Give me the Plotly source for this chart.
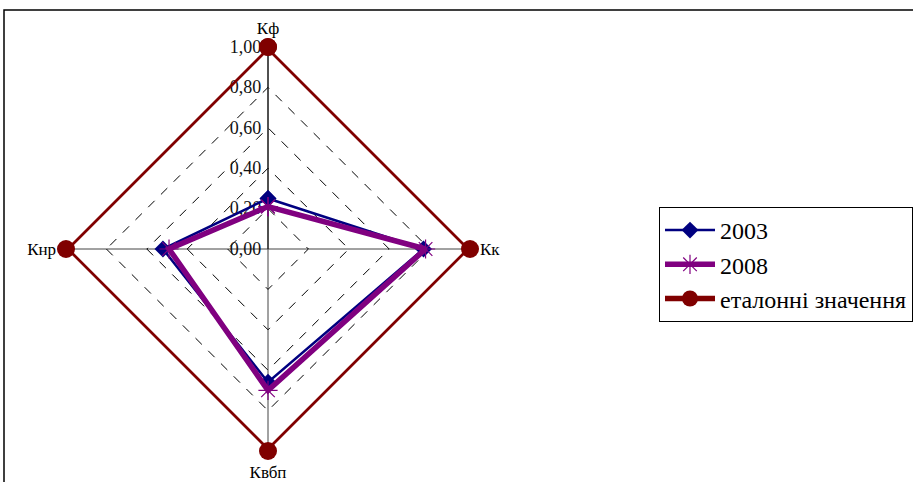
import plotly.graph_objects as go

categories = ["Кф", "Кк", "Квбп", "Кнр"]
series_names = ["2003", "2008", "еталонні значення"]
values_2003 = [0.25, 0.77, 0.66, 0.52]
values_2008 = [0.21, 0.78, 0.70, 0.49]
values_etalon = [1.00, 1.00, 1.00, 1.00]
radial_ticks = [0.0, 0.2, 0.4, 0.6, 0.8, 1.0]

FONT = "Liberation Serif"

def closed(v):
    return v + v[:1]

theta = closed(categories)

fig = go.Figure()
fig.add_trace(go.Scatterpolar(
    r=closed(values_2003), theta=theta, name=series_names[0], mode="lines+markers",
    line=dict(color="#000080", width=2.5),
    marker=dict(symbol="diamond", size=13, color="#000080"),
))
fig.add_trace(go.Scatterpolar(
    r=closed(values_2008), theta=theta, name=series_names[1], mode="lines+markers",
    line=dict(color="#800080", width=5.5),
    marker=dict(symbol="asterisk-open", size=16, color="#800080",
                line=dict(color="#800080", width=1.2)),
))
fig.add_trace(go.Scatterpolar(
    r=closed(values_etalon), theta=theta, name=series_names[2], mode="lines+markers",
    line=dict(color="#800000", width=5.5),
    marker=dict(symbol="circle", size=18, color="#800000"),
))

R = 202
cx, cy = 268, 482 - 249
W, H = 913, 482

fig.update_layout(
    width=W, height=H,
    margin=dict(l=0, r=0, t=0, b=0),
    paper_bgcolor="white",
    plot_bgcolor="white",
    separators=", ",
    font=dict(family=FONT, color="black"),
    polar=dict(
        domain=dict(x=[(cx - R) / W, (cx + R) / W], y=[(cy - R) / H, (cy + R) / H]),
        bgcolor="rgba(0,0,0,0)",
        gridshape="linear",
        radialaxis=dict(
            range=[0, 1], tickvals=radial_ticks, tickformat=".2f",
            angle=90, side="counterclockwise", tickangle=90,
            showline=True, linecolor="black", linewidth=1,
            gridcolor="black", griddash="dash", gridwidth=0.8,
            ticks="", tickfont=dict(family=FONT, size=18, color="#111"),
            layer="below traces",
        ),
        angularaxis=dict(
            rotation=90, direction="clockwise",
            showline=False, gridcolor="#444", gridwidth=1,
            ticks="outside", ticklen=6, tickcolor="rgba(0,0,0,0)",
            tickfont=dict(family=FONT, size=17, color="black"),
            layer="below traces",
        ),
    ),
    legend=dict(
        x=659 / W, y=(H - 207) / H, xanchor="left", yanchor="top",
        bordercolor="black", borderwidth=1, bgcolor="white",
        font=dict(family=FONT, size=24, color="black"),
        itemwidth=50, tracegroupgap=0,
    ),
    shapes=[dict(type="rect", xref="paper", yref="paper",
                 x0=4 / W, x1=1.01, y0=-0.02, y1=(H - 10) / H,
                 line=dict(color="black", width=1.5), layer="below")],
)

fig.write_html("out.html", config={"displayModeBar": False},
               post_script="document.body.style.margin='0';")
